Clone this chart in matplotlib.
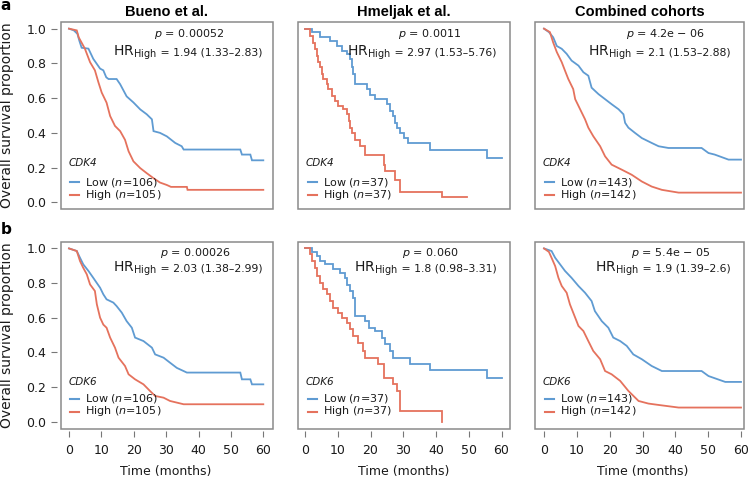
import matplotlib
matplotlib.use("Agg")
import matplotlib.pyplot as plt
from matplotlib.patches import Rectangle
from matplotlib.lines import Line2D

plt.rcParams['font.family'] = ['DejaVu Sans']
plt.rcParams['mathtext.fontset'] = 'dejavusans'

# ---------------- data ----------------
titles = ["Bueno et al.", "Hmeljak et al.", "Combined cohorts"]
genes = ["CDK4", "CDK6"]
n_low = [106, 37, 143]
n_high = [105, 37, 142]
p_values = [["0.00052", "0.0011", "4.2e \u2212 06"],
            ["0.00026", "0.060", "5.4e \u2212 05"]]
hr_values = [["1.94 (1.33\u20132.83)", "2.97 (1.53\u20135.76)", "2.1 (1.53\u20132.88)"],
             ["2.03 (1.38\u20132.99)", "1.8 (0.98\u20133.31)", "1.9 (1.39\u20132.6)"]]
x_ticks = [0, 10, 20, 30, 40, 50, 60]
y_ticks = [0.0, 0.2, 0.4, 0.6, 0.8, 1.0]

# Bueno, CDK4
bueno_cdk4_low_t = [0, 1.5, 2.6, 3.2, 3.9, 6.0, 7.5, 9.6, 10.6, 11.5, 12.2, 14.7, 15.8, 17.8, 19.9, 22.0, 24.0, 25.6, 26.1, 28.1, 30.2, 32.8, 34.8, 35.4, 52.9, 53.4, 56.0, 56.5, 60]
bueno_cdk4_low_s = [1.0, 0.99, 0.97, 0.93, 0.89, 0.885, 0.826, 0.77, 0.76, 0.72, 0.71, 0.71, 0.68, 0.61, 0.575, 0.535, 0.507, 0.478, 0.41, 0.40, 0.38, 0.342, 0.323, 0.304, 0.304, 0.275, 0.275, 0.242, 0.242]
bueno_cdk4_high_t = [0, 2.4, 3.0, 4.9, 6.5, 8.0, 9.1, 10.1, 11.6, 12.7, 14.2, 15.8, 17.3, 18.4, 19.9, 22.0, 24.0, 26.1, 28.1, 30.2, 31.5, 36.4, 36.6, 60]
bueno_cdk4_high_s = [1.0, 0.99, 0.95, 0.885, 0.807, 0.76, 0.69, 0.632, 0.574, 0.497, 0.44, 0.41, 0.36, 0.294, 0.236, 0.197, 0.168, 0.139, 0.114, 0.10, 0.089, 0.089, 0.072, 0.072]

# Hmeljak, CDK4 (step change points)
hmeljak_cdk4_low_t = [0, 2.0, 4.6, 7.6, 9.7, 11.2, 12.7, 13.8, 14.3, 14.8, 15.3, 18.9, 19.9, 21.4, 25.0, 26.0, 27.0, 27.5, 28.0, 29.1, 30.1, 31.6, 38.2, 55.6, 60]
hmeljak_cdk4_low_s = [1.0, 0.98, 0.95, 0.93, 0.90, 0.874, 0.855, 0.826, 0.778, 0.74, 0.68, 0.65, 0.62, 0.594, 0.565, 0.526, 0.497, 0.458, 0.43, 0.40, 0.37, 0.342, 0.304, 0.255, 0.255]
hmeljak_cdk4_high_t = [0, 1.5, 2.5, 3.1, 3.6, 4.1, 4.6, 5.1, 5.6, 6.6, 7.1, 8.2, 9.2, 10.2, 11.7, 12.7, 13.3, 13.8, 14.3, 15.3, 16.8, 18.3, 24.0, 24.5, 27.5, 29.1, 41.8, 49.4]
hmeljak_cdk4_high_s = [1.0, 0.96, 0.92, 0.884, 0.845, 0.807, 0.778, 0.74, 0.71, 0.68, 0.652, 0.613, 0.584, 0.555, 0.536, 0.507, 0.468, 0.43, 0.40, 0.36, 0.323, 0.275, 0.217, 0.178, 0.13, 0.062, 0.033, 0.033]

# Combined, CDK4
combined_cdk4_low_t = [0, 1.5, 2.8, 3.9, 5.4, 6.9, 8.4, 10.5, 12.0, 13.5, 14.5, 16.6, 18.6, 20.6, 22.7, 24.2, 24.7, 25.7, 27.7, 29.8, 32.8, 34.9, 37.9, 48.0, 50.1, 52.0, 56.2, 60]
combined_cdk4_low_s = [1.0, 0.98, 0.95, 0.90, 0.884, 0.855, 0.816, 0.787, 0.749, 0.729, 0.66, 0.623, 0.594, 0.565, 0.536, 0.507, 0.458, 0.43, 0.40, 0.37, 0.342, 0.323, 0.313, 0.313, 0.284, 0.275, 0.246, 0.246]
combined_cdk4_high_t = [0, 1.8, 2.8, 3.9, 5.4, 6.4, 7.4, 8.9, 9.5, 11.0, 12.5, 13.5, 15.0, 17.1, 18.6, 20.6, 23.7, 26.7, 29.8, 32.8, 35.9, 41.0, 60]
combined_cdk4_high_s = [1.0, 0.98, 0.92, 0.865, 0.807, 0.758, 0.71, 0.652, 0.594, 0.536, 0.478, 0.43, 0.381, 0.323, 0.265, 0.217, 0.188, 0.159, 0.12, 0.091, 0.072, 0.056, 0.056]

# Bueno, CDK6
bueno_cdk6_low_t = [0, 2.4, 3.4, 4.4, 6.0, 7.5, 8.6, 9.6, 10.6, 11.6, 13.7, 14.7, 16.3, 17.8, 19.4, 20.4, 23.0, 25.6, 26.6, 29.2, 31.2, 33.3, 36.4, 52.9, 53.4, 56.0, 56.5, 60]
bueno_cdk6_low_s = [1.0, 0.985, 0.946, 0.908, 0.87, 0.83, 0.80, 0.773, 0.735, 0.706, 0.687, 0.667, 0.629, 0.58, 0.542, 0.485, 0.465, 0.427, 0.388, 0.369, 0.34, 0.31, 0.283, 0.283, 0.244, 0.244, 0.215, 0.215]
bueno_cdk6_high_t = [0, 2.4, 3.4, 4.4, 5.5, 6.5, 8.0, 8.6, 9.6, 10.6, 11.6, 12.7, 14.2, 15.3, 17.3, 18.4, 20.4, 23.0, 25.0, 26.6, 29.2, 31.2, 35.4, 60]
bueno_cdk6_high_s = [1.0, 0.985, 0.927, 0.888, 0.85, 0.792, 0.754, 0.677, 0.60, 0.56, 0.542, 0.485, 0.427, 0.369, 0.321, 0.273, 0.244, 0.215, 0.177, 0.148, 0.138, 0.119, 0.10, 0.10]

# Hmeljak, CDK6 (step change points)
hmeljak_cdk6_low_t = [0, 2.0, 3.6, 4.6, 6.1, 8.7, 10.7, 12.2, 12.7, 13.8, 14.8, 15.3, 18.3, 19.4, 21.4, 23.4, 24.5, 26.0, 27.0, 32.1, 38.2, 55.6, 60]
hmeljak_cdk6_low_s = [1.0, 0.98, 0.956, 0.927, 0.908, 0.879, 0.86, 0.83, 0.79, 0.754, 0.715, 0.61, 0.58, 0.542, 0.523, 0.485, 0.446, 0.408, 0.369, 0.33, 0.30, 0.254, 0.254]
hmeljak_cdk6_high_t = [0, 1.5, 2.0, 3.1, 3.6, 4.6, 5.6, 6.6, 7.6, 8.7, 10.2, 11.2, 12.7, 13.8, 14.8, 16.3, 17.8, 18.3, 22.4, 24.0, 27.0, 28.0, 29.1, 41.8]
hmeljak_cdk6_high_s = [1.0, 0.965, 0.927, 0.888, 0.84, 0.80, 0.763, 0.735, 0.696, 0.658, 0.629, 0.60, 0.571, 0.533, 0.494, 0.456, 0.408, 0.369, 0.33, 0.254, 0.215, 0.177, 0.06, 0.0]

# Combined, CDK6
combined_cdk6_low_t = [0, 2.3, 3.4, 4.9, 6.4, 8.4, 10.5, 12.5, 14.5, 15.5, 17.6, 19.6, 21.1, 23.2, 25.2, 27.2, 29.8, 32.8, 35.9, 48.0, 50.1, 55.2, 60]
combined_cdk6_low_s = [1.0, 0.985, 0.946, 0.908, 0.87, 0.83, 0.783, 0.744, 0.696, 0.638, 0.58, 0.542, 0.485, 0.465, 0.437, 0.388, 0.36, 0.321, 0.292, 0.292, 0.263, 0.229, 0.229]
combined_cdk6_high_t = [0, 1.5, 2.3, 3.4, 4.4, 5.4, 6.9, 7.9, 9.5, 10.5, 12.0, 13.5, 15.0, 17.1, 18.6, 20.6, 23.2, 25.7, 28.8, 31.8, 34.9, 41.0, 60]
combined_cdk6_high_s = [1.0, 0.98, 0.946, 0.898, 0.83, 0.783, 0.744, 0.677, 0.60, 0.552, 0.523, 0.465, 0.408, 0.36, 0.292, 0.273, 0.235, 0.177, 0.119, 0.104, 0.096, 0.081, 0.081]

curves = [
    [(bueno_cdk4_low_t, bueno_cdk4_low_s, bueno_cdk4_high_t, bueno_cdk4_high_s),
     (hmeljak_cdk4_low_t, hmeljak_cdk4_low_s, hmeljak_cdk4_high_t, hmeljak_cdk4_high_s),
     (combined_cdk4_low_t, combined_cdk4_low_s, combined_cdk4_high_t, combined_cdk4_high_s)],
    [(bueno_cdk6_low_t, bueno_cdk6_low_s, bueno_cdk6_high_t, bueno_cdk6_high_s),
     (hmeljak_cdk6_low_t, hmeljak_cdk6_low_s, hmeljak_cdk6_high_t, hmeljak_cdk6_high_s),
     (combined_cdk6_low_t, combined_cdk6_low_s, combined_cdk6_high_t, combined_cdk6_high_s)],
]

# ---------------- layout (pixels, from top-left) ----------------
W, H = 750, 480
BLUE = '#5f9bd2'
RED = '#e5725d'
BOX = '#8a8a8a'
TXT = '#1a1a1a'

col_x = [(60.7, 272.7), (298.3, 509.5), (535.0, 744.3)]
col_tick0 = [69.0, 305.0, 544.0]
col_tick60 = [263.3, 501.5, 741.0]
row_y = [(21.7, 209.3), (241.5, 428.5)]

p_cx = [[188.7, 430.0, 665.3], [195.0, 430.3, 670.5]]
hr_cx = [[187.5, 421.8, 659.5], [188.0, 425.3, 662.8]]
p_base = [15.0, 15.0]
hr_base = [34.0, 30.0]
leg_dy = [(141.5, 160.5, 172.8), (140.5, 157.0, 170.0)]


def fx(x):
    return x / W


def fy(y):
    return 1 - y / H


fig = plt.figure(figsize=(W / 100, H / 100), dpi=100)
renderer = fig.canvas.get_renderer()

for r in range(2):
    y0, y1 = row_y[r]
    for c in range(3):
        x0, x1 = col_x[c]
        ax = fig.add_axes([fx(x0), fy(y1), (x1 - x0) / W, (y1 - y0) / H])
        sc = (col_tick60[c] - col_tick0[c]) / 60.0
        ax.set_xlim((x0 - col_tick0[c]) / sc, (x1 - col_tick0[c]) / sc)
        ax.set_ylim(-0.04, 1.04)
        for sp in ax.spines.values():
            sp.set_visible(False)
        ax.spines['left'].set_position(('outward', 3.0))
        ax.spines['bottom'].set_position(('outward', 2.0))
        ax.add_patch(Rectangle((0, 0), 1, 1, transform=ax.transAxes, fill=False,
                               ec=BOX, lw=1.1, clip_on=False, zorder=5))
        ax.tick_params(direction='out', length=4.3, width=0.8, color='#777777',
                       labelsize=9, labelcolor=TXT)
        if c == 0:
            ax.set_yticks(y_ticks)
            ax.set_yticklabels([f"{v:.1f}" for v in y_ticks])
            ax.tick_params(axis='y', pad=3)
        else:
            ax.set_yticks([])
        if r == 1:
            ax.set_xticks(x_ticks)
            ax.set_xticklabels([str(v) for v in x_ticks])
            ax.tick_params(axis='x', pad=4.5)
        else:
            ax.set_xticks([])

        lt, ls, ht, hs = curves[r][c]
        ds = 'steps-post' if c == 1 else 'default'
        ax.plot(lt, ls, color=BLUE, lw=1.3, drawstyle=ds, solid_joinstyle='miter')
        ax.plot(ht, hs, color=RED, lw=1.3, drawstyle=ds, solid_joinstyle='miter')

        # p value line
        fig.text(fx(p_cx[r][c]), fy(y0 + p_base[r]), r"$p$ = " + p_values[r][c],
                 ha='center', va='baseline', fontsize=8, color=TXT)
        # HR line: large "HR" with subscript, then the estimate
        yb = fy(y0 + hr_base[r])
        t1 = fig.text(0, yb, r"$\mathrm{HR}_{\mathrm{High}}$", fontsize=10,
                      ha='left', va='baseline', color=TXT)
        t2 = fig.text(0, yb, " = " + hr_values[r][c], fontsize=7.8,
                      ha='left', va='baseline', color=TXT)
        w1 = t1.get_window_extent(renderer).width
        w2 = t2.get_window_extent(renderer).width
        left = hr_cx[r][c] - (w1 + w2) / 2
        t1.set_x(fx(left))
        t2.set_x(fx(left + w1))

        # legend
        gy, ly, hy = leg_dy[r]
        fig.text(fx(x0 + 7.5), fy(y0 + gy), genes[r], style='italic', fontsize=7.5,
                 ha='left', va='center', color=TXT)
        for yy, col, lab in [(ly, BLUE, f"Low ($n$={n_low[c]})"),
                             (hy, RED, f"High ($n$={n_high[c]})")]:
            fig.add_artist(Line2D([fx(x0 + 9.5), fx(x0 + 18.5)], [fy(y0 + yy)] * 2,
                                  transform=fig.transFigure, color=col, lw=1.5))
            fig.text(fx(x0 + 24.5), fy(y0 + yy), lab, fontsize=8, ha='left',
                     va='center', color=TXT)

        if r == 0:
            fig.text(fx((x0 + x1) / 2), fy(12.0), titles[c], fontsize=10.5,
                     fontweight='bold', family='Liberation Sans', ha='center',
                     va='center', color='black')
        else:
            fig.text(fx(col_tick0[c] + (col_tick60[c] - col_tick0[c]) / 2), fy(471),
                     "Time (months)", fontsize=9, ha='center', va='center',
                     color=TXT)

    fig.text(fx(7.5), fy((y0 + y1) / 2), "Overall survival proportion", rotation=90,
             fontsize=10, ha='center', va='center', color=TXT)

fig.text(fx(0.5), fy(10.5), "a", fontsize=11, fontweight='bold', ha='left', va='baseline')
fig.text(fx(0.5), fy(233.5), "b", fontsize=11, fontweight='bold', ha='left', va='baseline')

fig.savefig("out.png", dpi=100)
